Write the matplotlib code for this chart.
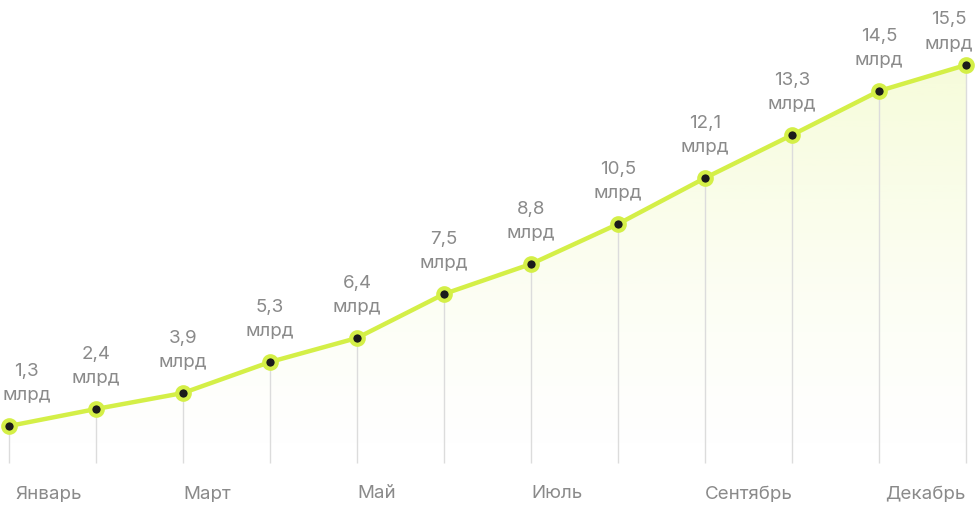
import matplotlib
matplotlib.use('Agg')
import matplotlib.pyplot as plt
import numpy as np
from matplotlib.patches import Polygon

plt.rcParams['font.family'] = ['Inter', 'DejaVu Sans']

# Data
months = ['Январь', 'Февраль', 'Март', 'Апрель', 'Май', 'Июнь',
          'Июль', 'Август', 'Сентябрь', 'Октябрь', 'Ноябрь', 'Декабрь']
value_labels = ['1,3', '2,4', '3,9', '5,3', '6,4', '7,5',
                '8,8', '10,5', '12,1', '13,3', '14,5', '15,5']
# plotted height of each point (chart is not to scale with the labels)
heights = [34, 51, 67, 98, 122, 166, 196, 236, 282, 325, 369, 395]
shown_months = [0, 2, 4, 6, 8, 11]

LINE = '#d4ef47'
DOT = '#1b1b1b'
GREY = '#8a8a8a'
FS = 13.5

fig = plt.figure(figsize=(9.76, 5.08), dpi=100)
ax = fig.add_axes([0, 0, 1, 1])
x = np.arange(len(heights))
ax.set_xlim(-9 / 87, 11 + 10 / 87)
ax.set_ylim(-48, 460)
ax.axis('off')

# gradient fill under the line
verts = [(x[0], -3)] + list(zip(x, heights)) + [(x[-1], -3)]
poly = Polygon(verts, closed=True, facecolor='none', edgecolor='none')
ax.add_patch(poly)
grad = np.linspace(0, 1, 256).reshape(-1, 1)
rgba = np.zeros((256, 1, 4))
rgba[..., 0] = 0xd4 / 255
rgba[..., 1] = 0xef / 255
rgba[..., 2] = 0x47 / 255
rgba[..., 3] = (grad ** 1.3) * 0.2
img = ax.imshow(rgba, extent=(x[0], x[-1], -3, max(heights)), origin='lower',
                aspect='auto', zorder=1)
img.set_clip_path(poly)

# thin vertical guide lines
ax.vlines(x, -3, heights, color='#dcdcdc', lw=1, zorder=2)

ax.plot(x, heights, color=LINE, lw=3.2, zorder=3, solid_capstyle='round')
ax.plot(x, heights, 'o', ms=9, mfc=DOT, mec=LINE, mew=3, zorder=4)

for i, (h, lab) in enumerate(zip(heights, value_labels)):
    txt = f'{lab}\nмлрд'
    ha, dx, dy = 'center', 0, 16
    if i == 0:
        ha, dx = 'left', -5
    elif i == len(heights) - 1:
        ha, dx, dy = 'right', 5, 9
    ax.annotate(txt, (x[i], h), xytext=(dx, dy), textcoords='offset points',
                ha=ha, va='bottom', multialignment='center',
                fontsize=FS, color=GREY, linespacing=1.55)

for i in shown_months:
    if i == 0:
        ax.text(x[i] + 0.07, -34, months[i], ha='left', va='center',
                fontsize=FS, color=GREY)
    elif i == len(months) - 1:
        ax.text(x[i], -34, months[i], ha='right', va='center',
                fontsize=FS, color=GREY)
    else:
        ax.text(x[i], -34, months[i], ha='left', va='center',
                fontsize=FS, color=GREY)

fig.savefig('out.png', dpi=100, facecolor='white')
